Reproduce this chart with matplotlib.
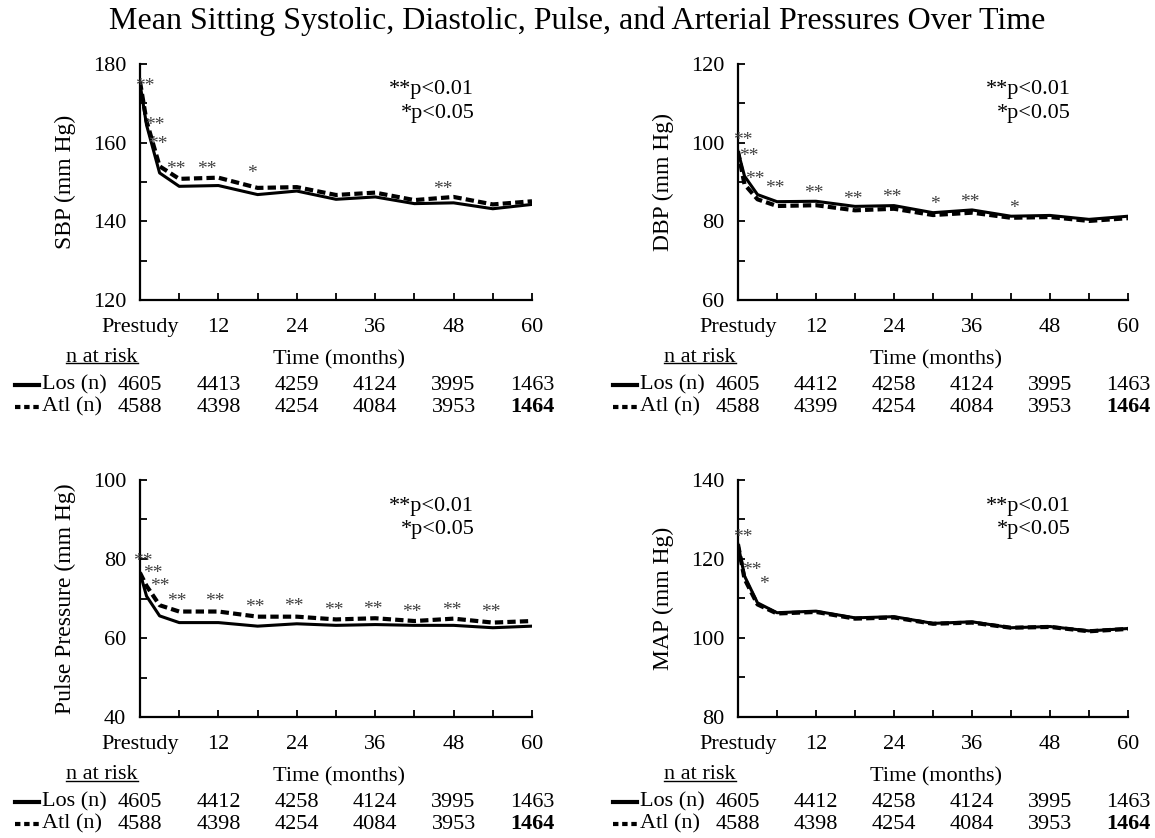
import matplotlib
matplotlib.use("Agg")
import matplotlib.pyplot as plt
from matplotlib.lines import Line2D
from matplotlib.transforms import offset_copy

plt.rcParams['font.family'] = ['Liberation Serif', 'DejaVu Serif']

W, H = 1155, 838

# visit times (months), prestudy = 0
months = [0, 1, 3, 6, 12, 18, 24, 30, 36, 42, 48, 54, 60]

sbp_los = [175.0, 164.5, 152.3, 148.9, 149.1, 146.8, 147.7, 145.6, 146.2, 144.5, 144.7, 143.2, 144.3]
sbp_atl = [175.5, 165.5, 154.0, 150.8, 151.1, 148.5, 148.7, 146.7, 147.3, 145.4, 146.2, 144.3, 145.1]

dbp_los = [97.8, 91.5, 86.8, 85.0, 85.1, 83.8, 84.0, 82.2, 82.9, 81.3, 81.5, 80.5, 81.3]
dbp_atl = [97.8, 89.4, 85.6, 83.9, 84.1, 82.8, 83.2, 81.6, 82.2, 80.9, 81.1, 80.1, 80.8]

pp_los = [76.5, 70.6, 65.6, 63.9, 63.9, 63.0, 63.6, 63.2, 63.4, 63.2, 63.2, 62.6, 63.0]
pp_atl = [76.5, 73.2, 68.3, 66.7, 66.7, 65.4, 65.4, 64.7, 65.0, 64.3, 64.9, 63.9, 64.3]

map_los = [123.7, 115.7, 108.9, 106.4, 106.8, 105.1, 105.4, 103.7, 104.1, 102.6, 102.9, 101.8, 102.4]
map_atl = [123.7, 115.0, 108.5, 106.2, 106.6, 104.9, 105.2, 103.6, 103.9, 102.6, 102.8, 101.7, 102.3]

# significance markers: month, value, label
sbp_star_x = [0.7, 2.2, 2.8, 5.5, 10.3, 17.2, 46.3]
sbp_star_y = [175.5, 165.8, 160.8, 154.4, 154.4, 153.4, 149.4]
sbp_star_s = ['**', '**', '**', '**', '**', '*', '**']

dbp_star_x = [0.7, 1.7, 2.6, 5.6, 11.6, 17.6, 23.6, 30.3, 35.6, 42.4]
dbp_star_y = [101.9, 97.8, 92.0, 89.6, 88.5, 86.8, 87.3, 85.6, 86.2, 84.7]
dbp_star_s = ['**', '**', '**', '**', '**', '**', '**', '*', '**', '*']

pp_star_x = [0.4, 1.9, 3.0, 5.6, 11.5, 17.5, 23.6, 29.6, 35.6, 41.6, 47.7, 53.7]
pp_star_y = [80.8, 77.6, 74.4, 70.6, 70.5, 69.1, 69.2, 68.4, 68.6, 67.9, 68.3, 67.7]
pp_star_s = ['**'] * 12

map_star_x = [0.8, 2.1, 4.0]
map_star_y = [126.7, 118.5, 114.8]
map_star_s = ['**', '**', '*']

# number at risk
n_months = [0, 12, 24, 36, 48, 60]
sbp_n_los = [4605, 4413, 4259, 4124, 3995, 1463]
sbp_n_atl = [4588, 4398, 4254, 4084, 3953, 1464]
dbp_n_los = [4605, 4412, 4258, 4124, 3995, 1463]
dbp_n_atl = [4588, 4399, 4254, 4084, 3953, 1464]
pp_n_los = [4605, 4412, 4258, 4124, 3995, 1463]
pp_n_atl = [4588, 4398, 4254, 4084, 3953, 1464]
map_n_los = [4605, 4412, 4258, 4124, 3995, 1463]
map_n_atl = [4588, 4398, 4254, 4084, 3953, 1464]

panels = [
    # left, top, right, bottom in pixels
    ((140, 64, 532, 300), 'SBP (mm Hg)', (120, 180), sbp_los, sbp_atl,
     (sbp_star_x, sbp_star_y, sbp_star_s), sbp_n_los, sbp_n_atl),
    ((738, 64, 1128, 300), 'DBP (mm Hg)', (60, 120), dbp_los, dbp_atl,
     (dbp_star_x, dbp_star_y, dbp_star_s), dbp_n_los, dbp_n_atl),
    ((140, 480, 532, 717), 'Pulse Pressure (mm Hg)', (40, 100), pp_los, pp_atl,
     (pp_star_x, pp_star_y, pp_star_s), pp_n_los, pp_n_atl),
    ((738, 480, 1128, 717), 'MAP (mm Hg)', (80, 140), map_los, map_atl,
     (map_star_x, map_star_y, map_star_s), map_n_los, map_n_atl),
]

fs = 16

fig = plt.figure(figsize=(W / 100, H / 100), dpi=100)
fig.text(0.5, 1 - 21 / H, 'Mean Sitting Systolic, Diastolic, Pulse, and Arterial Pressures Over Time',
         ha='center', va='center', fontsize=23)

dash = (0, (2, 1))
underline_texts = []

for rect, ylab, ylim, los, atl, stars, n_los, n_atl in panels:
    l, t, r, b = rect
    ax = fig.add_axes([l / W, (H - b) / H, (r - l) / W, (b - t) / H])
    ax.plot(months, atl, color='black', lw=3.0, linestyle=dash, solid_capstyle='butt')
    ax.plot(months, los, color='black', lw=2.2)
    ax.set_xlim(0, 60)
    ax.set_ylim(*ylim)
    ax.spines['top'].set_visible(False)
    ax.spines['right'].set_visible(False)
    for s in ('left', 'bottom'):
        ax.spines[s].set_linewidth(1.6)

    ax.set_xticks(range(0, 61, 12))
    ax.set_xticklabels(['Prestudy', '12', '24', '36', '48', '60'])
    ax.set_xticks(range(6, 60, 12), minor=True)
    ax.set_yticks(range(ylim[0], ylim[1] + 1, 20))
    ax.set_yticks(range(ylim[0] + 10, ylim[1], 20), minor=True)
    ax.tick_params(which='both', direction='in', length=5, width=1.3, labelsize=fs)
    ax.tick_params(axis='x', pad=13)
    ax.tick_params(axis='y', pad=10)
    ax.set_ylabel(ylab, fontsize=17, labelpad=12)

    for sx, sy, st in zip(*stars):
        ax.annotate(st, (sx, sy), xytext=(0, -7), textcoords='offset points',
                    ha='center', va='baseline', fontsize=14, color='#404040')

    ax.text(0.853, 0.89, '**p<0.01', transform=ax.transAxes, ha='right', va='center', fontsize=fs)
    ax.text(0.853, 0.79, '*p<0.05', transform=ax.transAxes, ha='right', va='center', fontsize=fs)

    # n at risk block under the axis
    base = ax.get_xaxis_transform()
    ax.text(30.5, 0, 'Time (months)', fontsize=fs, ha='center', va='center',
            transform=offset_copy(base, fig=fig, y=-60, units='dots'))
    t_risk = ax.text(0, 0, 'n at risk', fontsize=fs, ha='center', va='center',
                     transform=offset_copy(base, fig=fig, x=-38, y=-57, units='dots'))
    underline_texts.append(t_risk)

    for dy, vals, name, ls in [(85, n_los, 'Los (n)', '-'), (107, n_atl, 'Atl (n)', (0, (1.3, 0.9)))]:
        tr = offset_copy(base, fig=fig, y=-dy, units='dots')
        ax.plot([-19.2, -15.5], [0, 0], color='black', lw=3.0, linestyle=ls,
                transform=tr, clip_on=False)
        ax.text(0, 0, name, fontsize=fs, ha='left', va='center',
                transform=offset_copy(base, fig=fig, x=-98, y=-dy, units='dots'))
        for i, (m, v) in enumerate(zip(n_months, vals)):
            bold = name.startswith('Atl') and i == len(vals) - 1
            ax.text(m, 0, str(v), fontsize=fs, ha='center', va='center',
                    fontweight='bold' if bold else 'normal', transform=tr)

fig.canvas.draw()
inv = fig.transFigure.inverted()
for t in underline_texts:
    bb = t.get_window_extent()
    (x0, y0), (x1, _) = inv.transform([(bb.x0, bb.y0 + 3), (bb.x1, bb.y0 + 3)])
    fig.add_artist(Line2D([x0, x1], [y0, y0], color='black', lw=1.0, transform=fig.transFigure))

fig.savefig('out.png', dpi=100)
